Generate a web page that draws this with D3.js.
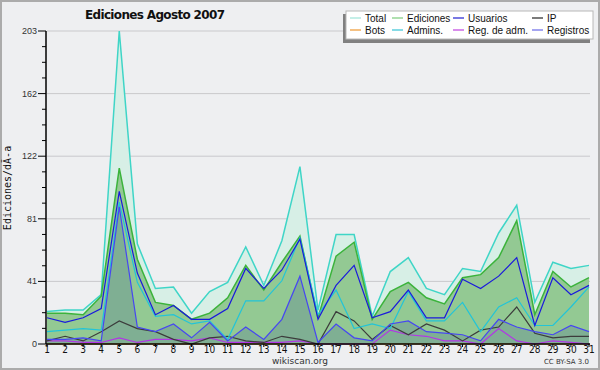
<!DOCTYPE html>
<html>
<head>
<meta charset="utf-8">
<script src="https://cdn.jsdelivr.net/npm/d3@7"></script>
<style>
  body { margin: 0; background: #fff; }
  svg { display: block; }
</style>
</head>
<body>
<script>
// data
var days = d3.range(1, 32);
var total     = [21,22,22,32,203,65,36,37,20,34,40,63,38,67,115,22,71,71,18,47,56,36,32,49,47,72,90,27,53,49,51];
var ediciones = [20,20,19,31,114,55,27,25,16,20,30,51,35,53,70,17,57,66,16,34,40,30,26,43,45,56,80,19,47,37,43];
var usuarios  = [17,14,17,23,99,46,19,25,16,16,23,49,36,48,68,16,38,51,17,21,35,17,17,42,36,44,56,12,43,32,38];
var ip        = [2,5,2,8,15,10,8,3,0,4,5,2,1,5,3,0,21,15,3,12,6,13,9,2,9,11,24,7,4,5,5];
var bots      = [0,0,0,0,0,0,0,0,0,0,0,0,0,0,0,0,0,0,0,0,0,0,0,0,0,0,0,0,0,0,0];
var admins    = [8,9,10,9,92,40,18,19,13,15,3,28,28,41,69,19,35,10,13,10,34,15,15,27,8,24,30,12,12,24,37];
var regAdm    = [2,2,1,1,4,1,3,3,2,4,1,1,1,1,2,0,0,0,0,9,6,5,2,2,0,10,2,0,2,1,0];
var registros = [3,3,4,2,89,11,8,13,4,14,2,11,3,16,44,1,13,4,2,13,15,8,7,6,2,16,11,8,6,12,8];
var yTickLabels = ["0", "41", "81", "122", "162", "203"];
var yMax = 203;

var W = 600, H = 370;
var svg = d3.select("body").append("svg")
    .attr("width", W)
    .attr("height", H)
    .style("font-family", "'DejaVu Sans', sans-serif");

// background + frame
svg.append("rect")
    .attr("x", 1).attr("y", 1)
    .attr("width", W - 2).attr("height", H - 2)
    .attr("fill", "#eeeff1")
    .attr("stroke", "#ababab")
    .attr("stroke-width", 2);

var x = d3.scaleLinear().domain([1, 31]).range([47, 589]);
var y = d3.scaleLinear().domain([0, yMax]).range([344, 31]);

// grid lines
var majors = yTickLabels.map(function(d, i) { return yMax * i / 5; });
svg.append("g").selectAll("line")
  .data(majors.slice(1))
  .enter().append("line")
    .attr("x1", 47).attr("x2", 590)
    .attr("y1", function(d) { return y(d); })
    .attr("y2", function(d) { return y(d); })
    .attr("stroke", "#c9c9cc")
    .attr("stroke-width", 1);

function area(vals) {
  return d3.area()
    .x(function(d, i) { return x(days[i]); })
    .y0(y(0))
    .y1(function(d) { return y(d); })(vals);
}
function line(vals) {
  return d3.line()
    .x(function(d, i) { return x(days[i]); })
    .y(function(d) { return y(d); })(vals);
}

var plot = svg.append("g");

// filled series
plot.append("path").attr("d", area(total)).attr("fill", "#d7efe6");
plot.append("path").attr("d", line(total)).attr("fill", "none").attr("stroke", "#3fd5c7").attr("stroke-width", 1.5);
plot.append("path").attr("d", area(ediciones)).attr("fill", "#93c993");
plot.append("path").attr("d", line(ediciones)).attr("fill", "none").attr("stroke", "#3bb33b").attr("stroke-width", 1.5);
plot.append("path").attr("d", area(registros)).attr("fill", "rgba(60,80,150,0.22)");

// line series
var lines = [
  {v: bots,      c: "#f0a030"},
  {v: regAdm,    c: "#b236e6"},
  {v: ip,        c: "#3c3c3c"},
  {v: admins,    c: "#22c4d8"},
  {v: registros, c: "#4646f2"},
  {v: usuarios,  c: "#1a1adc"}
];
plot.selectAll(".ln")
  .data(lines)
  .enter().append("path")
    .attr("class", "ln")
    .attr("d", function(d) { return line(d.v); })
    .attr("fill", "none")
    .attr("stroke", function(d) { return d.c; })
    .attr("stroke-width", 1.2);

// y axis
var ax = svg.append("g");
ax.append("line").attr("x1", 46).attr("x2", 46).attr("y1", 31).attr("y2", 344)
    .attr("stroke", "#000").attr("stroke-width", 1.5);
ax.selectAll(".minor")
  .data(d3.range(0, 21))
  .enter().append("line")
    .attr("x1", function(d) { return d % 4 === 0 ? 38 : 42; })
    .attr("x2", 46)
    .attr("y1", function(d) { return y(yMax * d / 20); })
    .attr("y2", function(d) { return y(yMax * d / 20); })
    .attr("stroke", "#000");
ax.selectAll(".lbl")
  .data(yTickLabels)
  .enter().append("text")
    .attr("x", 37)
    .attr("y", function(d, i) { return y(majors[i]) + 3; })
    .attr("text-anchor", "end")
    .style("font-family", "'Liberation Sans', Arial, sans-serif")
    .style("font-size", "9px")
    .attr("fill", "#333")
    .text(function(d) { return d; });

// x axis
ax.append("line").attr("x1", 46).attr("x2", 590).attr("y1", 344).attr("y2", 344)
    .attr("stroke", "#000").attr("stroke-width", 1.5);
ax.selectAll(".xt")
  .data(days)
  .enter().append("line")
    .attr("x1", function(d) { return x(d); })
    .attr("x2", function(d) { return x(d); })
    .attr("y1", 344).attr("y2", 347)
    .attr("stroke", "#000");
ax.selectAll(".xl")
  .data(days)
  .enter().append("text")
    .attr("x", function(d) { return x(d); })
    .attr("y", 353)
    .attr("text-anchor", "middle")
    .style("font-family", "'DejaVu Sans Condensed', 'DejaVu Sans', sans-serif")
    .style("font-size", "10px")
    .attr("fill", "#111")
    .text(function(d) { return d; });

// y axis title
svg.append("text")
    .attr("transform", "translate(11,188) rotate(-90)")
    .attr("text-anchor", "middle")
    .style("font-family", "'DejaVu Sans Mono', monospace")
    .style("font-size", "10px")
    .attr("fill", "#111")
    .text("Ediciones/dÃ-a");

// title
svg.append("text")
    .attr("x", 155).attr("y", 19)
    .attr("text-anchor", "middle")
    .style("font-size", "12px")
    .style("font-weight", "bold")
    .attr("fill", "#111")
    .attr("textLength", 140)
    .text("Ediciones  Agosto 2007");

// footer
svg.append("text")
    .attr("x", 300).attr("y", 364)
    .attr("text-anchor", "middle")
    .style("font-size", "9px")
    .attr("fill", "#333")
    .text("wikiscan.org");
svg.append("text")
    .attr("x", 589).attr("y", 364)
    .attr("text-anchor", "end")
    .style("font-size", "7px")
    .attr("fill", "#333")
    .text("CC BY-SA 3.0");

// legend
var legendNames = ["Total", "Ediciones", "Usuarios", "IP", "Bots", "Admins.", "Reg. de adm.", "Registros"];
var legendColors = ["#a6e6dc", "#86cf86", "#3030d4", "#333333", "#f0a040", "#44c8d8", "#c450e2", "#7474ea"];
var colX = [350, 392, 453, 532];
var lg = svg.append("g");
lg.append("rect").attr("x", 343).attr("y", 14).attr("width", 247).attr("height", 29).attr("fill", "#808080");
lg.append("rect").attr("x", 346).attr("y", 11).attr("width", 247).attr("height", 28)
    .attr("fill", "#fff").attr("stroke", "#b8b8b8");
var items = lg.selectAll(".it")
  .data(legendNames)
  .enter().append("g")
    .attr("transform", function(d, i) { return "translate(" + colX[i % 4] + "," + (i < 4 ? 18 : 30) + ")"; });
items.append("line")
    .attr("x1", 0).attr("x2", 11).attr("y1", 0).attr("y2", 0)
    .attr("stroke", function(d, i) { return legendColors[i]; })
    .attr("stroke-width", 1.3);
items.append("text")
    .attr("x", 15).attr("y", 4)
    .style("font-family", "'Liberation Sans', Arial, sans-serif")
    .style("font-size", "10px")
    .attr("fill", "#111")
    .text(function(d) { return d; });
</script>
</body>
</html>
